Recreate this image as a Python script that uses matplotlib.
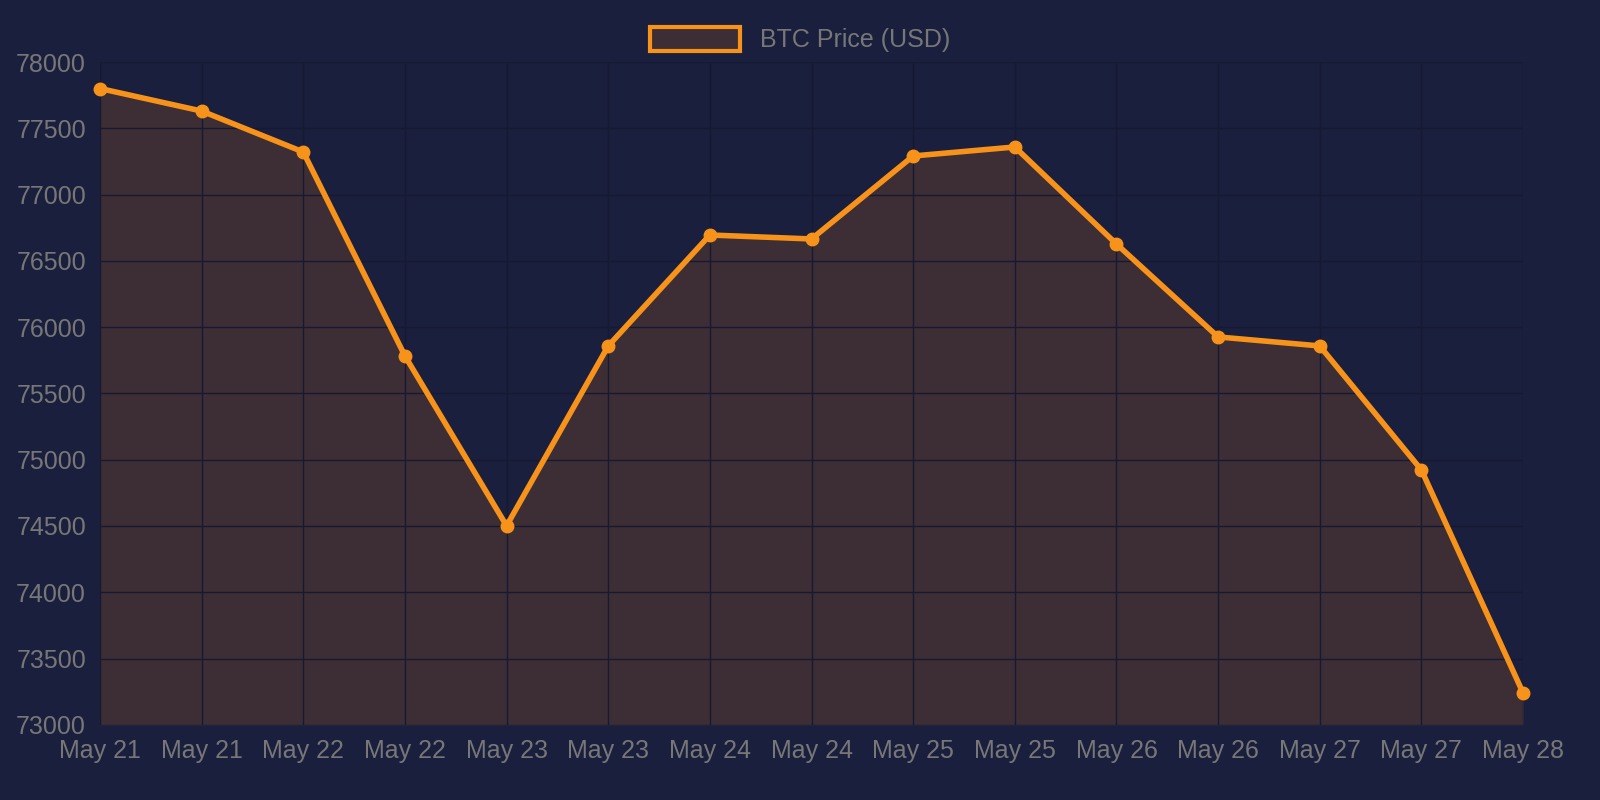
import matplotlib
matplotlib.use("Agg")
import matplotlib.pyplot as plt
from matplotlib.patches import Patch

plt.rcParams['font.family'] = ['Liberation Sans', 'DejaVu Sans']

labels = ["May 21","May 21","May 22","May 22","May 23","May 23","May 24","May 24",
          "May 25","May 25","May 26","May 26","May 27","May 27","May 28"]
prices = [77800,77630,77321,75783,74501,75858,76695,76665,77291,77359,76627,75926,75858,74923,73241]

bg = "#1a1f3d"
orange = "#f7931a"
txt = "#777777"

fig = plt.figure(figsize=(16, 8), dpi=100, facecolor=bg)
ax = fig.add_axes([0.0625, 0.094, 0.8894, 0.8285], facecolor=bg)
x = list(range(len(prices)))
ax.fill_between(x, prices, 73000, color="#3d2e35", linewidth=0)
ax.plot(x, prices, color=orange, linewidth=4, marker="o", markersize=9, clip_on=False, zorder=5)
ax.set_xlim(0, len(prices) - 1)
ax.set_ylim(73000, 78000)
ax.set_yticks(range(73000, 78001, 500))
ax.set_xticks(x)
ax.set_xticklabels(labels)
ax.tick_params(colors=txt, labelsize=18, length=0, pad=10)
ax.grid(True, color="#151932", linewidth=1)
for s in ax.spines.values():
    s.set_visible(False)

fig.legend(handles=[Patch(facecolor="#3d2e35", edgecolor=orange, linewidth=3)],
           labels=["BTC Price (USD)"], loc="upper center", bbox_to_anchor=(0.5, 0.995),
           frameon=False, fontsize=18, labelcolor=txt, handlelength=3.6, handleheight=1.1)
fig.savefig("out.png", facecolor=bg)
